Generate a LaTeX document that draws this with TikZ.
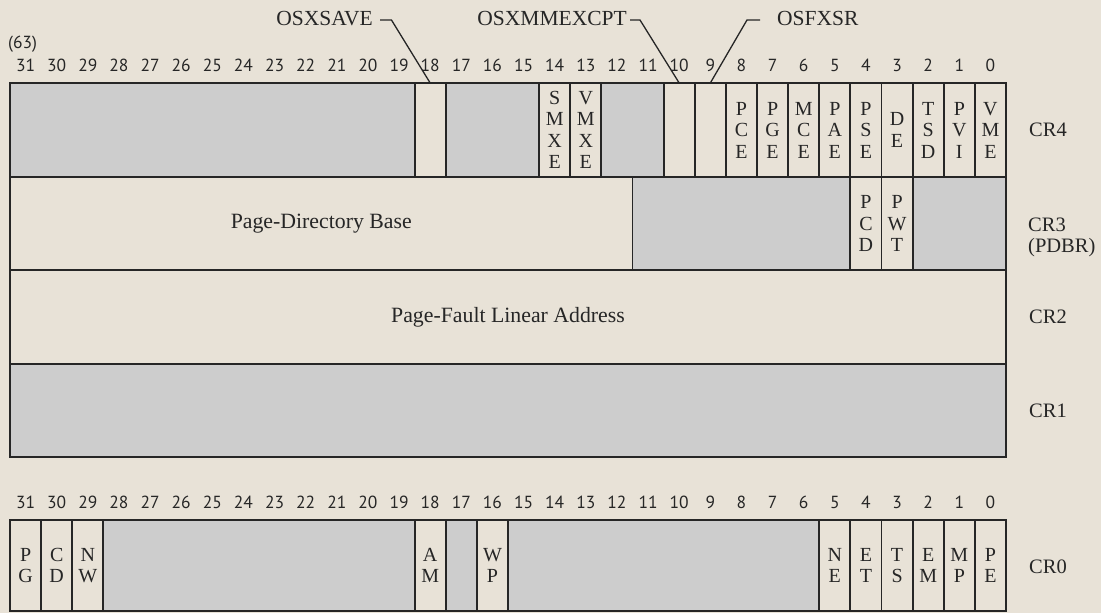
\documentclass[tikz,border=0pt]{standalone}
\usepackage{fontspec}
\setmainfont{Liberation Serif}
\newfontfamily\numfont{PT Sans}
\newfontfamily\serifont{Liberation Serif}
\definecolor{paper}{RGB}{232,226,215}
\definecolor{reserved}{RGB}{205,205,205}
\definecolor{ink}{RGB}{38,38,38}
\tikzset{
  field/.style={draw=ink, line width=1.8pt, rectangle, inner sep=0pt, outer sep=0pt,
    align=center, font=\serifont\fontsize{20}{21.5}\selectfont, text=ink},
  rsv/.style={field, fill=reserved},
  bigtext/.style={font=\serifont\fontsize{21.8}{22}\selectfont},
  bitnum/.style={font=\numfont\fontsize{17.5}{18}\selectfont, text=ink, inner sep=0pt, anchor=base},
  reglabel/.style={font=\serifont\fontsize{20.5}{21}\selectfont, text=ink, anchor=west, inner sep=0pt, align=left},
  flagname/.style={font=\serifont\fontsize{21.5}{22}\selectfont, text=ink, inner sep=0pt},
  leader/.style={draw=ink, line width=1.3pt}
}
% name, high bit, low bit, top, bottom, style, text
\newcommand\regfield[7]{%
  \pgfmathsetmacro\fxa{10+(31-#2)*31.125}%
  \pgfmathsetmacro\fxb{10+(32-#3)*31.125}%
  \pgfmathsetmacro\fw{\fxb-\fxa}%
  \pgfmathsetmacro\fh{#5-#4}%
  \pgfmathsetmacro\fcx{(\fxa+\fxb)/2}%
  \pgfmathsetmacro\fcy{(#4+#5)/2}%
  \node[#6, minimum width=\fw pt, minimum height=\fh pt] (#1) at (\fcx,\fcy) {#7};}
\begin{document}
\begin{tikzpicture}[x=1pt,y=-1pt]
\fill[paper] (0,0) rectangle (1101,613);
\useasboundingbox (0,0) rectangle (1101,613);

% bit numbers
\node[bitnum, anchor=base west] (n63) at (8,48) {(63)};
\foreach \b in {0,...,31}{
  \node[bitnum] (na\b) at ({25.56+(31-\b)*31.125},71) {\b};
  \node[bitnum] (nb\b) at ({25.56+(31-\b)*31.125},508) {\b};
}

% CR4
\regfield{cr4r1}{31}{19}{83}{177}{rsv}{}
\regfield{cr4b18}{18}{18}{83}{177}{field}{}
\regfield{cr4r2}{17}{15}{83}{177}{rsv}{}
\regfield{cr4b14}{14}{14}{83}{177}{field}{S\\M\\X\\E}
\regfield{cr4b13}{13}{13}{83}{177}{field}{V\\M\\X\\E}
\regfield{cr4r3}{12}{11}{83}{177}{rsv}{}
\regfield{cr4b10}{10}{10}{83}{177}{field}{}
\regfield{cr4b9}{9}{9}{83}{177}{field}{}
\regfield{cr4b8}{8}{8}{83}{177}{field}{P\\C\\E}
\regfield{cr4b7}{7}{7}{83}{177}{field}{P\\G\\E}
\regfield{cr4b6}{6}{6}{83}{177}{field}{M\\C\\E}
\regfield{cr4b5}{5}{5}{83}{177}{field}{P\\A\\E}
\regfield{cr4b4}{4}{4}{83}{177}{field}{P\\S\\E}
\regfield{cr4b3}{3}{3}{83}{177}{field}{D\\E}
\regfield{cr4b2}{2}{2}{83}{177}{field}{T\\S\\D}
\regfield{cr4b1}{1}{1}{83}{177}{field}{P\\V\\I}
\regfield{cr4b0}{0}{0}{83}{177}{field}{V\\M\\E}

% CR3
\regfield{cr3pdb}{31}{12}{177}{270}{field,bigtext}{Page-Directory Base}
\regfield{cr3r1}{11}{5}{177}{270}{rsv}{}
\regfield{cr3b4}{4}{4}{177}{270}{field}{P\\C\\D}
\regfield{cr3b3}{3}{3}{177}{270}{field}{P\\W\\T}
\regfield{cr3r2}{2}{0}{177}{270}{rsv}{}

% CR2
\regfield{cr2}{31}{0}{270}{364}{field,bigtext}{Page-Fault Linear Address}

% CR1
\regfield{cr1}{31}{0}{364}{457}{rsv}{}

% CR0
\regfield{cr0b31}{31}{31}{520}{611}{field}{P\\G}
\regfield{cr0b30}{30}{30}{520}{611}{field}{C\\D}
\regfield{cr0b29}{29}{29}{520}{611}{field}{N\\W}
\regfield{cr0r1}{28}{19}{520}{611}{rsv}{}
\regfield{cr0b18}{18}{18}{520}{611}{field}{A\\M}
\regfield{cr0r2}{17}{17}{520}{611}{rsv}{}
\regfield{cr0b16}{16}{16}{520}{611}{field}{W\\P}
\regfield{cr0r3}{15}{6}{520}{611}{rsv}{}
\regfield{cr0b5}{5}{5}{520}{611}{field}{N\\E}
\regfield{cr0b4}{4}{4}{520}{611}{field}{E\\T}
\regfield{cr0b3}{3}{3}{520}{611}{field}{T\\S}
\regfield{cr0b2}{2}{2}{520}{611}{field}{E\\M}
\regfield{cr0b1}{1}{1}{520}{611}{field}{M\\P}
\regfield{cr0b0}{0}{0}{520}{611}{field}{P\\E}

% register labels
\node[reglabel] (lcr4) at (1029,130) {CR4};
\node[reglabel] (lcr3) at (1028,237) {CR3\\(PDBR)};
\node[reglabel] (lcr2) at (1029,317) {CR2};
\node[reglabel] (lcr1) at (1029,411) {CR1};
\node[reglabel] (lcr0) at (1029,567) {CR0};

% flag names with leaders
\node[flagname, anchor=base east] (osxsave) at (373,25) {OSXSAVE};
\node[flagname, anchor=base east] (osxmm) at (627,25) {OSXMMEXCPT};
\node[flagname, anchor=base west] (osfxsr) at (777,25) {OSFXSR};

\draw[leader] ([xshift=7pt,yshift=-2pt]osxsave.east) -- ++(11.5,0) -- (cr4b18.north);
\draw[leader] ([xshift=3pt,yshift=-2pt]osxmm.east) -- ++(10,0) -- (cr4b10.north);
\draw[leader] ([xshift=-17pt,yshift=-2pt]osfxsr.west) -- ++(-13,0) -- (cr4b9.north);
\end{tikzpicture}
\end{document}
